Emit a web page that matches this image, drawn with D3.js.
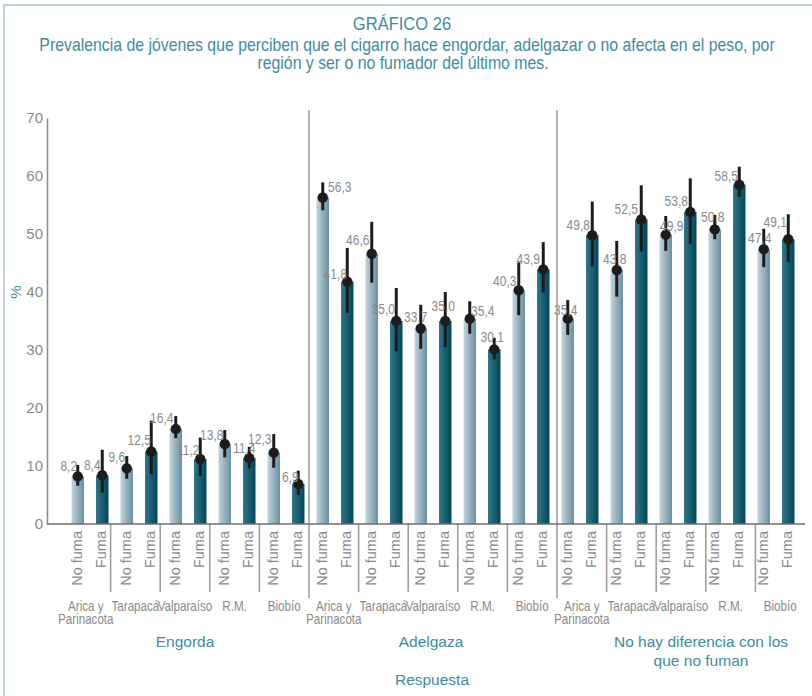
<!DOCTYPE html>
<html>
<head>
<meta charset="utf-8">
<script src="https://cdn.jsdelivr.net/npm/d3@7"></script>
<style>
  body { margin: 0; background: #fff; }
  svg text { font-family: "Liberation Sans", Arial, sans-serif; }
</style>
</head>
<body>
<script>
// categories
const groups = ["Engorda", "Adelgaza", "No hay diferencia con los|que no fuman"];
const regions = ["Arica y|Parinacota", "Tarapacá", "Valparaíso", "R.M.", "Biobío"];
const smokers = ["No fuma", "Fuma"];
const yTicks = [0, 10, 20, 30, 40, 50, 60, 70];

// values per group: [region1 NF, region1 F, region2 NF, ...]
const engorda = [8.2, 8.4, 9.6, 12.5, 16.4, 11.2, 13.8, 11.4, 12.3, 6.9];
const engordaLow = [6.6, 5.4, 7.8, 8.6, 14.8, 8.3, 11.5, 9.6, 9.7, 5.0];
const engordaHigh = [10.2, 12.8, 11.7, 17.8, 18.6, 14.9, 16.2, 13.3, 15.5, 9.2];

const adelgaza = [56.3, 41.8, 46.6, 35.0, 33.7, 35.0, 35.4, 30.1, 40.3, 43.9];
const adelgazaLow = [54.1, 36.4, 41.6, 29.8, 30.2, 30.5, 32.8, 28.4, 36.0, 39.9];
const adelgazaHigh = [58.9, 47.6, 52.1, 40.7, 37.8, 40.0, 38.4, 32.1, 45.1, 48.6];

const noDif = [35.4, 49.8, 43.8, 52.5, 49.9, 53.8, 50.8, 58.5, 47.4, 49.1];
const noDifLow = [32.6, 44.4, 39.2, 47.0, 47.1, 48.3, 49.1, 56.4, 44.3, 45.2];
const noDifHigh = [38.6, 55.6, 48.8, 58.4, 53.1, 59.6, 53.3, 61.6, 50.9, 53.4];

// label nudges (dx of text centre from bar centre, dy of baseline from dot)
const labelDx = [-9, -10, -10, -12, -14, -12, -13, -5, -14, -8,
                 17, -12, -14, -13, -5, -2, 13, -2, -14, -15,
                 -2, -14, -2, -15, 6, -14, -2, -13, -4, -13];
const labelDy = [-5, -5, -6, -7, -6, -4, -4, -5, -9, -2,
                 -5, -3, -9, -7, -7, -10, -3, -7, -4, -5,
                 -4, -5, -6, -6, -4, -6, -7, -4, -6, -12];

const vals = [engorda, adelgaza, noDif];
const lows = [engordaLow, adelgazaLow, noDifLow];
const highs = [engordaHigh, adelgazaHigh, noDifHigh];

const data = [];
groups.forEach((g, gi) => {
  vals[gi].forEach((v, j) => {
    data.push({
      i: data.length, g: gi, r: gi * 5 + Math.floor(j / 2), s: j % 2,
      v: v, lo: lows[gi][j], hi: highs[gi][j]
    });
  });
});

const W = 812, H = 696;
const teal = "#3f8c9c", grey = "#8a8a8a";

const svg = d3.select("body").append("svg")
  .attr("width", W).attr("height", H);

const defs = svg.append("defs");
const grads = [["gNo", "#c3d3dc", "#6890a4"], ["gSi", "#327689", "#004759"]];
grads.forEach(([id, a, b]) => {
  const lg = defs.append("linearGradient").attr("id", id)
    .attr("x1", 0).attr("x2", 1).attr("y1", 0).attr("y2", 0);
  lg.append("stop").attr("offset", 0).attr("stop-color", a);
  lg.append("stop").attr("offset", 1).attr("stop-color", b);
});

// squeezed text, the original uses a condensed face
function narrow(parent, x, y, sx) {
  return parent.append("g").attr("transform", `translate(${x},${y}) scale(${sx},1)`)
    .append("text");
}

// frame
svg.append("rect").attr("x", 4).attr("y", 5).attr("width", 900).attr("height", 900)
  .attr("fill", "none").attr("stroke", "#a7c2ce").attr("stroke-width", 1.5);

// titles
narrow(svg, 402, 30, 0.92).attr("text-anchor", "middle").attr("fill", teal)
  .style("font-size", "18px").text("GRÁFICO 26");
narrow(svg, 407, 51, 0.905).attr("text-anchor", "middle").attr("fill", teal)
  .style("font-size", "17.5px")
  .text("Prevalencia de jóvenes que perciben que el cigarro hace engordar, adelgazar o no afecta en el peso, por");
narrow(svg, 403, 69, 0.905).attr("text-anchor", "middle").attr("fill", teal)
  .style("font-size", "17.5px")
  .text("región y ser o no fumador del último mes.");

// scales
const y = d3.scaleLinear().domain([0, 70]).range([524, 118]);
const x = d3.scaleBand().domain(d3.range(30)).range([65.5, 800.5]);
const xr = d3.scaleBand().domain(d3.range(15)).range([61, 805]);
const xg = d3.scaleBand().domain(d3.range(3)).range([61, 805]);
const bw = 12.5;
const cx = d => x(d.i) + x.bandwidth() / 2;

// y axis
const yAxis = svg.append("g").attr("transform", "translate(47,0)")
  .call(d3.axisLeft(y).tickValues(yTicks).tickSize(0).tickPadding(4));
yAxis.select(".domain").attr("stroke", "#8a8a8a").attr("stroke-width", 1.5);
yAxis.selectAll("text").attr("fill", grey)
  .style("font-size", "15px").style("font-family", "'Liberation Sans', sans-serif");

svg.append("text").attr("transform", "translate(21,292) rotate(-90)")
  .attr("text-anchor", "middle").attr("fill", teal).style("font-size", "15px").text("%");

// separators
const seps = [];
d3.range(1, 15).forEach(k => seps.push({ x: xr(k), group: k % 5 === 0 }));
svg.selectAll("line.sep").data(seps).join("line").attr("class", "sep")
  .attr("x1", d => d.x).attr("x2", d => d.x)
  .attr("y1", d => d.group ? 110 : 524).attr("y2", d => d.group ? 598 : 592)
  .attr("stroke", "#9a9a9a").attr("stroke-width", 1.5);

// bars
svg.selectAll("rect.bar").data(data).join("rect").attr("class", "bar")
  .attr("x", d => cx(d) - bw / 2).attr("width", bw)
  .attr("y", d => y(d.v)).attr("height", d => y(0) - y(d.v))
  .attr("fill", d => d.s === 0 ? "url(#gNo)" : "url(#gSi)");

// x axis line
svg.append("line").attr("x1", 47).attr("x2", 805).attr("y1", 524).attr("y2", 524)
  .attr("stroke", "#6e6e6e").attr("stroke-width", 1.5);

// error bars
svg.selectAll("line.err").data(data).join("line").attr("class", "err")
  .attr("x1", cx).attr("x2", cx)
  .attr("y1", d => y(d.lo)).attr("y2", d => y(d.hi))
  .attr("stroke", "#1c1c1c").attr("stroke-width", 3);
svg.selectAll("circle.dot").data(data).join("circle").attr("class", "dot")
  .attr("cx", cx).attr("cy", d => y(d.v)).attr("r", 5.2).attr("fill", "#1c1c1c");

// value labels
svg.selectAll("g.val").data(data).join("g").attr("class", "val")
  .attr("transform", d => `translate(${cx(d) + labelDx[d.i]},${y(d.v) + labelDy[d.i]}) scale(0.8,1)`)
  .append("text")
  .attr("text-anchor", "middle").attr("fill", grey).style("font-size", "15px")
  .text(d => d.v.toFixed(1).replace(".", ","));

// smoker tick labels
svg.selectAll("text.smk").data(data).join("text").attr("class", "smk")
  .attr("transform", d => `translate(${cx(d) - 1},531) rotate(-90)`)
  .attr("text-anchor", "end").attr("dy", "0.35em").attr("fill", grey)
  .style("font-size", "14.5px")
  .text(d => smokers[d.s]);

// region labels
const regData = d3.range(15).map(k => ({ k: k, name: regions[k % 5] }));
svg.selectAll("g.reg").data(regData).join("g").attr("class", "reg")
  .attr("transform", d => `translate(${xr(d.k) + xr.bandwidth() / 2},611) scale(0.8,1)`)
  .each(function (d) {
    d3.select(this).append("text").attr("text-anchor", "middle").attr("fill", grey)
      .style("font-size", "14.5px")
      .selectAll("tspan").data(d.name.split("|")).join("tspan")
      .attr("x", 0).attr("y", (t, i) => i * 12.5).text(t => t);
  });

// group labels
const gDx = [0, -2, 20];
const gl = svg.selectAll("text.grp").data(groups).join("text").attr("class", "grp")
  .attr("text-anchor", "middle").attr("fill", teal).style("font-size", "15.5px");
gl.each(function (d, gi) {
  d3.select(this).selectAll("tspan").data(d.split("|")).join("tspan")
    .attr("x", xg(gi) + xg.bandwidth() / 2 + gDx[gi]).attr("y", (t, i) => 647 + i * 18.5)
    .text(t => t);
});

svg.append("text").attr("x", 432).attr("y", 685).attr("text-anchor", "middle")
  .attr("fill", teal).style("font-size", "15.5px").text("Respuesta");
</script>
</body>
</html>
